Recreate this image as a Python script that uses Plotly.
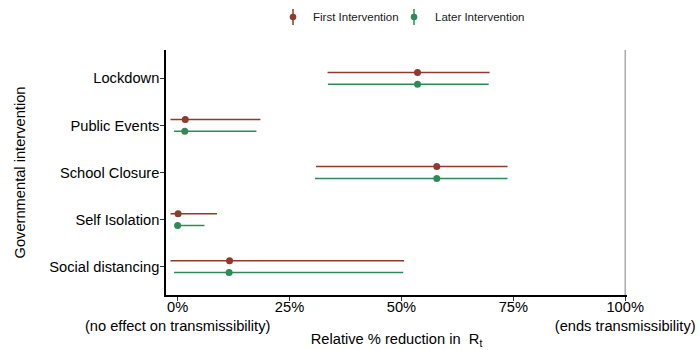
import plotly.graph_objects as go

categories = ["Lockdown", "Public Events", "School Closure", "Self Isolation", "Social distancing"]

first_mean = [53.6, 1.7, 57.9, 0.1, 11.6]
first_low = [33.5, -1.6, 30.9, -1.6, -1.6]
first_high = [69.7, 18.5, 73.7, 8.8, 50.6]

later_mean = [53.6, 1.6, 57.9, 0.0, 11.5]
later_low = [33.6, -0.8, 30.7, -0.7, -0.8]
later_high = [69.5, 17.6, 73.7, 6.0, 50.4]

x_ticks = [0, 25, 50, 75, 100]
x_tick_labels = ["0%<br>(no effect on transmissibility)", "25%", "50%", "75%",
                 "100%<br>(ends transmissibility)"]

RED = "#8E3B2E"
GREEN = "#2E8B57"
FONT = "Liberation Sans, Arial, sans-serif"

pos = list(range(1, len(categories) + 1))
off = 0.125

fig = go.Figure()

def add_series(means, lows, highs, color, name, shift):
    ys = [p + shift for p in pos]
    fig.add_trace(go.Scatter(
        x=means, y=ys, mode="markers", name=name, showlegend=False,
        marker=dict(color=color, size=7),
        error_x=dict(type="data", symmetric=False,
                     array=[h - m for h, m in zip(highs, means)],
                     arrayminus=[m - l for m, l in zip(means, lows)],
                     color=color, thickness=1.5, width=0),
    ))

add_series(first_mean, first_low, first_high, RED, "First Intervention", -off)
add_series(later_mean, later_low, later_high, GREEN, "Later Intervention", off)

# vertical reference line at 100%
fig.add_shape(type="line", xref="x", yref="paper", x0=100, x1=100, y0=0, y1=1,
              line=dict(color="#9E9E9E", width=1.3), layer="below")

# manual legend (errorbar-style keys)
legend_items = [("First Intervention", RED, 293, 311), ("Later Intervention", GREEN, 414, 433)]
W, H = 700, 350
L, R, T, B = 166, 73, 50, 55
pw, ph = W - L - R, H - T - B
def px_to_paper(xp, yp):
    return (xp - L) / pw, (H - B - yp) / ph
for label, color, kx, tx in legend_items:
    x0, y0 = px_to_paper(kx, 9)
    _, y1 = px_to_paper(kx, 25)
    fig.add_shape(type="line", xref="paper", yref="paper", x0=x0, x1=x0, y0=y0, y1=y1,
                  line=dict(color=color, width=1.5))
    cx, cy = px_to_paper(kx, 17)
    r = 3.3
    fig.add_shape(type="circle", xref="paper", yref="paper",
                  x0=cx - r / pw, x1=cx + r / pw, y0=cy - r / ph, y1=cy + r / ph,
                  fillcolor=color, line=dict(color=color, width=0))
    ax, ay = px_to_paper(tx, 17)
    fig.add_annotation(xref="paper", yref="paper", x=ax, y=ay, text=label,
                       showarrow=False, xanchor="left", yanchor="middle",
                       font=dict(family=FONT, size=11.5, color="#1a1a1a"))

fig.update_layout(
    width=W, height=H,
    margin=dict(l=L, r=R, t=T, b=B, autoexpand=False),
    plot_bgcolor="white", paper_bgcolor="white",
    font=dict(family=FONT, size=14.67, color="black"),
    showlegend=False,
    xaxis=dict(
        range=[-2.6, 100.4], tickvals=x_ticks, ticktext=x_tick_labels,
        showgrid=False, zeroline=False, showline=True, linecolor="black", linewidth=1.5,
        ticks="outside", ticklen=4, tickwidth=1, tickcolor="#333333",
        tickfont=dict(size=14.67, color="black"),
        ticklabelstandoff=-6,
        title=dict(text="Relative % reduction in  R<sub>t</sub>", standoff=0,
                   font=dict(size=14.67, color="black")),
        automargin=False,
    ),
    yaxis=dict(
        range=[5.6, 0.4], tickvals=pos, ticktext=categories,
        showgrid=False, zeroline=False, showline=True, linecolor="black", linewidth=1.5,
        ticks="outside", ticklen=4, tickwidth=1, tickcolor="#333333",
        tickfont=dict(size=14.67, color="black"),
        ticklabelstandoff=-2,
        title=dict(text="Governmental intervention", standoff=20,
                   font=dict(size=14.67, color="black")),
        automargin=False,
    ),
)

fig.write_html("out.html")
